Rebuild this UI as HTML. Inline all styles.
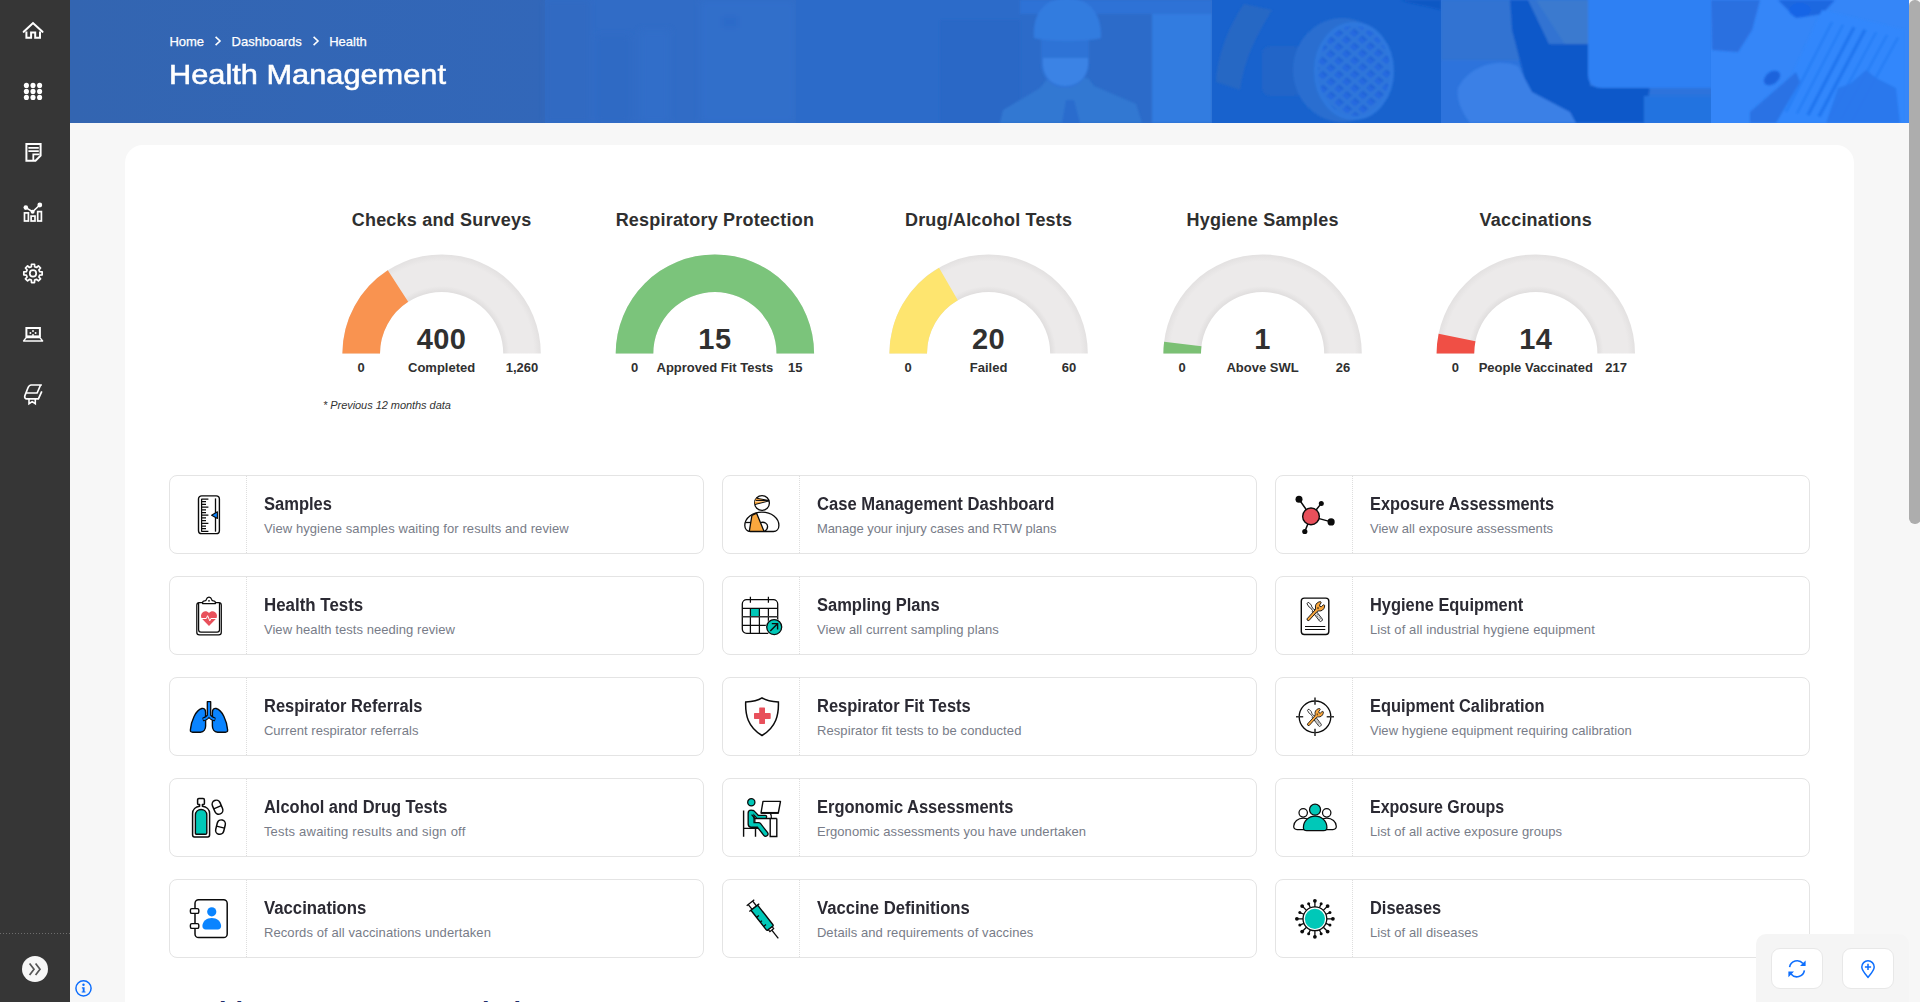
<!DOCTYPE html>
<html lang="en"><head><meta charset="utf-8"><title>Health Management</title>
<style>
html,body{margin:0;padding:0;}
body{width:1920px;height:1002px;overflow:hidden;background:#f7f7f7;font-family:"Liberation Sans",Arial,sans-serif;position:relative;}
.t{position:absolute;white-space:nowrap;margin:0;}
.abs{position:absolute;}
#side{left:0;top:0;width:70px;height:1002px;background:#363636;}
#banner{left:70px;top:0;width:1839px;height:123px;overflow:hidden;background:linear-gradient(90deg,#3266b7 0%,#3167ba 40%,#2f6cc8 60%,#2e74dc 80%,#2f7df0 100%);}
#card{left:125px;top:145px;width:1729px;height:900px;background:#fff;border-radius:18px;}
.tile{position:absolute;width:533px;height:77px;border:1px solid #e4e4e4;border-radius:8px;background:#fff;}
.tile i{position:absolute;left:76px;top:0;width:0;height:77px;border-left:1px dotted #dedede;}
.tile svg{position:absolute;left:18px;top:18px;width:40px;height:40px;overflow:visible;}
#sb{left:1909px;top:0;width:11.5px;height:524px;background:#adadad;border-radius:5.7px;}
#fab{left:1756px;top:934px;width:153px;height:80px;background:#f5f5f5;border-radius:10px 10px 0 0;}
.fb{position:absolute;top:948px;width:50px;height:39px;background:#fff;border:1px solid #e8e8e8;border-radius:9px;}
</style></head><body>

<div id="side" class="abs">
<svg class="abs" style="left:0;top:0" width="70" height="1002" viewBox="0 0 70 1002" fill="none" stroke="#fff" stroke-width="2" stroke-linejoin="miter">
<path d="M23.7 31.8 L33 23.1 L42.5 31.8" stroke-width="2.1" stroke-linecap="round"/>
<path d="M26.4 31.4 V37.8 H31.1 V32.6 H35.2 V37.8 H40 V31.4"/>
<circle cx="26.4" cy="85.4" r="2.55" fill="#fff" stroke="none"/>
<circle cx="33" cy="85.4" r="2.55" fill="#fff" stroke="none"/>
<circle cx="39.6" cy="85.4" r="2.55" fill="#fff" stroke="none"/>
<circle cx="26.4" cy="91.4" r="2.55" fill="#fff" stroke="none"/>
<circle cx="33" cy="91.4" r="2.55" fill="#fff" stroke="none"/>
<circle cx="39.6" cy="91.4" r="2.55" fill="#fff" stroke="none"/>
<circle cx="26.4" cy="97.4" r="2.55" fill="#fff" stroke="none"/>
<circle cx="33" cy="97.4" r="2.55" fill="#fff" stroke="none"/>
<circle cx="39.6" cy="97.4" r="2.55" fill="#fff" stroke="none"/>
<path d="M26.4 144 H40.6 V155.7 L35.5 160.8 H26.4 Z"/>
<path d="M28.4 147.8 H38.8 M28.4 151.1 H38.8" stroke-width="1.7"/>
<path d="M33.3 160 V154.3 H39.6" stroke-width="1.8"/>
<rect x="24.5" y="212.9" width="3.9" height="8.1" stroke-width="1.7"/>
<rect x="31.1" y="216.1" width="3.9" height="4.9" stroke-width="1.7"/>
<rect x="37.7" y="211.6" width="3.7" height="9.4" stroke-width="1.7"/>
<path d="M25.8 207.6 L32.6 211.8 L39.8 205" stroke-width="1.7"/>
<circle cx="25.8" cy="207.6" r="2.3" fill="#fff" stroke="none"/><circle cx="39.8" cy="205" r="2.4" fill="#fff" stroke="none"/><circle cx="32.6" cy="211.8" r="2" fill="#fff" stroke="none"/>
<path d="M31.37 266.70 L31.47 264.23 L34.53 264.23 L34.63 266.70 L36.58 267.50 L38.41 265.83 L40.57 267.99 L38.90 269.82 L39.70 271.77 L42.17 271.87 L42.17 274.93 L39.70 275.03 L38.90 276.98 L40.57 278.81 L38.41 280.97 L36.58 279.30 L34.63 280.10 L34.53 282.57 L31.47 282.57 L31.37 280.10 L29.42 279.30 L27.59 280.97 L25.43 278.81 L27.10 276.98 L26.30 275.03 L23.83 274.93 L23.83 271.87 L26.30 271.77 L27.10 269.82 L25.43 267.99 L27.59 265.83 L29.42 267.50Z" stroke-width="1.7" stroke-linejoin="round"/>
<circle cx="33" cy="273.4" r="3.2" stroke-width="1.7"/>
<rect x="26.4" y="328" width="13.5" height="8.4" />
<circle cx="33" cy="331" r="0.95" fill="#fff" stroke="none"/>
<circle cx="30.4" cy="333" r="0.95" fill="#fff" stroke="none"/>
<circle cx="35.6" cy="333" r="0.95" fill="#fff" stroke="none"/>
<circle cx="33" cy="335" r="0.95" fill="#fff" stroke="none"/>
<path d="M26.2 337.6 H39.9 L42.6 340.9 H23.6 Z" stroke-width="1.5" stroke-linejoin="round"/>
<path d="M41.9 385 H31.2 C29.4 385 28.6 386.2 27.9 388 L24.9 395.6 C24.2 397.6 25.3 398.9 26.8 398.9 H38.4 L41.8 391.4 M26.2 393 H37.1 L40.6 385" stroke-width="1.7" stroke-linejoin="round"/>
<path d="M29 399 V403.7 L32.2 401.6 L35.3 403.7 V399" stroke-width="1.6"/>
<path d="M0 933.5 H70" stroke="#6d6d6d" stroke-width="1" stroke-dasharray="1 2"/>
<circle cx="35" cy="969" r="13" fill="#f7f7f7" stroke="none"/>
<path d="M29.6 963.6 L34 969.3 L29.6 975 M35.6 963.6 L40 969.3 L35.6 975" stroke="#555" stroke-width="1.7"/>
</svg>
</div>
<div id="banner" class="abs">
<svg class="abs" style="left:0;top:0" width="1839" height="123" viewBox="70 0 1839 123">
<defs><filter id="bl1" x="-10%" y="-10%" width="120%" height="120%"><feGaussianBlur stdDeviation="1.2"/></filter><filter id="bl3" x="-10%" y="-10%" width="120%" height="120%"><feGaussianBlur stdDeviation="3"/></filter>
<linearGradient id="bg0" x1="0" x2="1" y1="0" y2="0"><stop offset="0" stop-color="#3365b1"/><stop offset="1" stop-color="#3267b9"/></linearGradient>
<pattern id="grid" width="10.5" height="10.5" patternUnits="userSpaceOnUse" patternTransform="rotate(40) skewX(-8)"><rect width="10.5" height="10.5" fill="#2f76da"/><rect x="2" y="2" width="6.5" height="6.5" fill="#2669e0"/><rect x="2" y="2" width="6.5" height="2.2" fill="#1f62d6"/></pattern>
<clipPath id="cp3"><rect x="1212" y="0" width="229" height="123"/></clipPath><clipPath id="cp4"><rect x="1441" y="0" width="270" height="123"/></clipPath><clipPath id="cp5"><rect x="1711" y="0" width="198" height="123"/></clipPath><clipPath id="cp2"><rect x="796" y="0" width="416" height="123"/></clipPath>
</defs>
<rect x="70" y="0" width="476" height="123" fill="url(#bg0)"/>
<rect x="545" y="0" width="251" height="123" fill="#316cc6"/>
<g filter="url(#bl3)" opacity="0.6"><rect x="545" y="0" width="45" height="123" fill="#3169c0"/><rect x="596" y="35" width="34" height="88" fill="#2f69c3"/><rect x="640" y="30" width="30" height="93" fill="#3370cb"/><rect x="700" y="0" width="96" height="123" fill="#3371ce"/><rect x="722" y="16" width="16" height="12" fill="#2b6acb"/></g>
<g clip-path="url(#cp2)"><rect x="796" y="0" width="416" height="123" fill="#2c6bc9"/>
<g filter="url(#bl1)"><rect x="940" y="20" width="80" height="103" fill="#2a68c6"/><rect x="1152" y="14" width="60" height="109" fill="#317ce0"/><rect x="1020" y="0" width="192" height="14" fill="#2d72d6"/>
<path d="M1000 123 L1003 110 L1040 88 L1048 78 H1088 L1094 86 L1136 104 L1142 123 Z" fill="#3278d2"/>
<path d="M1062 123 L1066 100 H1074 L1080 123 Z" fill="#2a6ccd"/>
<path d="M1041 36 H1089 V62 C1089 78 1078 88 1065 88 C1052 88 1041 78 1041 62 Z" fill="#2f73d6"/>
<path d="M1043 58 H1088 V66 C1086 80 1076 86 1065 86 C1054 86 1045 80 1043 66 Z" fill="#3b83e5"/>
<path d="M1034 38 C1032 12 1046 -2 1067 -2 C1088 -2 1102 12 1101 38 C1090 42 1046 42 1034 38 Z" fill="#337bdf"/>
</g></g>
<g clip-path="url(#cp3)"><rect x="1212" y="0" width="229" height="123" fill="#1862cd"/>
<g filter="url(#bl1)"><path d="M1244 4 L1272 10 C1256 36 1244 60 1240 90 L1216 82 C1218 52 1230 24 1244 4 Z" fill="#2768c4"/>
<rect x="1262" y="46" width="40" height="50" rx="8" fill="#2165c8"/>
<ellipse cx="1342" cy="70" rx="49" ry="52" fill="#2a6ed0"/><ellipse cx="1354" cy="71" rx="38" ry="47" fill="url(#grid)"/><ellipse cx="1354" cy="71" rx="38" ry="47" fill="none" stroke="#2f78de" stroke-width="4"/>
<path d="M1400 0 H1441 V10 C1426 6 1412 4 1400 0 Z" fill="#0f58c4"/></g></g>
<g clip-path="url(#cp4)"><rect x="1441" y="0" width="270" height="123" fill="#2d73dc"/>
<g filter="url(#bl1)"><rect x="1441" y="0" width="150" height="60" fill="#3373d2"/><path d="M1536 0 H1590 V46 H1566 Z" fill="#3a7acf"/>
<path d="M1510 0 H1528 L1549 44 H1590 V86 H1650 L1644 123 H1575 L1528 92 L1512 30 Z" fill="#0b59c9"/>
<path d="M1588 -4 H1712 V88 H1602 Q1588 88 1588 74 Z" fill="#2f80f3"/>
<path d="M1458 88 C1470 64 1500 58 1518 66 L1532 92 L1570 112 L1576 123 H1470 C1462 112 1456 100 1458 88 Z" fill="#3a80e6"/><rect x="1644" y="96" width="68" height="27" fill="#2373e0"/></g></g>
<g clip-path="url(#cp5)"><rect x="1711" y="0" width="198" height="123" fill="#3586f8"/>
<g filter="url(#bl1)"><path d="M1711 0 H1760 L1752 30 L1738 52 L1712 50 Z" fill="#2a70e0"/><path d="M1778 0 H1835 L1822 14 L1796 18 Z" fill="#1f68e0"/><ellipse cx="1800" cy="10" rx="11" ry="7" fill="#1765e6"/>
<path d="M1822 10 L1905 30 L1905 123 H1770 Z" fill="#3087fc"/>
<path d="M1832 22.0 L1786 112.0" stroke="#1f74ee" stroke-width="2" opacity="0.55"/>
<path d="M1843 24.6 L1797 113.5" stroke="#1f74ee" stroke-width="2" opacity="0.55"/>
<path d="M1854 27.2 L1808 115.0" stroke="#1f74ee" stroke-width="3.4" opacity="0.9"/>
<path d="M1865 29.8 L1819 116.5" stroke="#1f74ee" stroke-width="3.4" opacity="0.9"/>
<path d="M1876 32.4 L1830 118.0" stroke="#1f74ee" stroke-width="2" opacity="0.55"/>
<path d="M1887 35.0 L1841 119.5" stroke="#1f74ee" stroke-width="2" opacity="0.55"/>
<path d="M1898 37.6 L1852 121.0" stroke="#1f74ee" stroke-width="2" opacity="0.55"/>
<path d="M1750 112 L1796 72 L1800 82 L1776 123 H1750 Z" fill="#2a72e4"/><path d="M1826 123 L1838 88 L1850 84 L1866 70 L1876 78 L1896 88 L1900 123 Z" fill="#2b75ea" opacity="0.85"/><ellipse cx="1772" cy="78" rx="9" ry="6" transform="rotate(-35 1772 78)" fill="#1b63dc"/>
</g></g>
</svg>
</div>
<div class="t" style="top:32.80px;font-size:13px;line-height:17px;font-weight:400;color:#fff;left:169.40px;-webkit-text-stroke:0.25px #fff;">Home</div>
<div class="t" style="top:32.80px;font-size:13px;line-height:17px;font-weight:400;color:#fff;left:231.60px;-webkit-text-stroke:0.25px #fff;">Dashboards</div>
<div class="t" style="top:32.80px;font-size:13px;line-height:17px;font-weight:400;color:#fff;left:329.20px;-webkit-text-stroke:0.25px #fff;">Health</div>
<svg class="abs" style="left:213px;top:35px" width="10" height="12" viewBox="0 0 10 12"><path d="M2.6 1.8 L7 6 L2.6 10.2" fill="none" stroke="#fff" stroke-width="1.6"/></svg>
<svg class="abs" style="left:310.5px;top:35px" width="10" height="12" viewBox="0 0 10 12"><path d="M2.6 1.8 L7 6 L2.6 10.2" fill="none" stroke="#fff" stroke-width="1.6"/></svg>
<div class="t" style="top:57.00px;font-size:28px;line-height:36px;font-weight:400;color:#fff;left:168.50px;transform:scaleX(1.0985);transform-origin:0 50%;-webkit-text-stroke:0.55px #fff;">Health Management</div>
<div id="card" class="abs"></div>
<svg class="abs" style="left:0;top:0" width="1920" height="440" viewBox="0 0 1920 440">
<defs>
<radialGradient id="gg0" gradientUnits="userSpaceOnUse" cx="441.6" cy="353.6" r="99.2"><stop offset="0" stop-color="#dcdada"/><stop offset="0.621" stop-color="#e0dede"/><stop offset="0.681" stop-color="#eceaea"/><stop offset="0.929" stop-color="#eceaea"/><stop offset="1" stop-color="#e3e1e1"/></radialGradient>
<radialGradient id="gg1" gradientUnits="userSpaceOnUse" cx="714.9" cy="353.6" r="99.2"><stop offset="0" stop-color="#dcdada"/><stop offset="0.621" stop-color="#e0dede"/><stop offset="0.681" stop-color="#eceaea"/><stop offset="0.929" stop-color="#eceaea"/><stop offset="1" stop-color="#e3e1e1"/></radialGradient>
<radialGradient id="gg2" gradientUnits="userSpaceOnUse" cx="988.6" cy="353.6" r="99.2"><stop offset="0" stop-color="#dcdada"/><stop offset="0.621" stop-color="#e0dede"/><stop offset="0.681" stop-color="#eceaea"/><stop offset="0.929" stop-color="#eceaea"/><stop offset="1" stop-color="#e3e1e1"/></radialGradient>
<radialGradient id="gg3" gradientUnits="userSpaceOnUse" cx="1262.6" cy="353.6" r="99.2"><stop offset="0" stop-color="#dcdada"/><stop offset="0.621" stop-color="#e0dede"/><stop offset="0.681" stop-color="#eceaea"/><stop offset="0.929" stop-color="#eceaea"/><stop offset="1" stop-color="#e3e1e1"/></radialGradient>
<radialGradient id="gg4" gradientUnits="userSpaceOnUse" cx="1535.8" cy="353.6" r="99.2"><stop offset="0" stop-color="#dcdada"/><stop offset="0.621" stop-color="#e0dede"/><stop offset="0.681" stop-color="#eceaea"/><stop offset="0.929" stop-color="#eceaea"/><stop offset="1" stop-color="#e3e1e1"/></radialGradient>
</defs>
<path d="M342.40 353.60 A99.2 99.2 0 0 1 540.80 353.60 L503.20 353.60 A61.6 61.6 0 0 0 380.00 353.60 Z" fill="url(#gg0)"/>
<path d="M342.40 353.60 A99.2 99.2 0 0 1 387.78 270.27 L408.18 301.85 A61.6 61.6 0 0 0 380.00 353.60 Z" fill="#f99350"/>
<path d="M615.70 353.60 A99.2 99.2 0 0 1 814.10 353.60 L776.50 353.60 A61.6 61.6 0 0 0 653.30 353.60 Z" fill="url(#gg1)"/>
<path d="M615.70 353.60 A99.2 99.2 0 0 1 814.10 353.60 L776.50 353.60 A61.6 61.6 0 0 0 653.30 353.60 Z" fill="#7bc47b"/>
<path d="M889.40 353.60 A99.2 99.2 0 0 1 1087.80 353.60 L1050.20 353.60 A61.6 61.6 0 0 0 927.00 353.60 Z" fill="url(#gg2)"/>
<path d="M889.40 353.60 A99.2 99.2 0 0 1 939.00 267.69 L957.80 300.25 A61.6 61.6 0 0 0 927.00 353.60 Z" fill="#fee56f"/>
<path d="M1163.40 353.60 A99.2 99.2 0 0 1 1361.80 353.60 L1324.20 353.60 A61.6 61.6 0 0 0 1201.00 353.60 Z" fill="url(#gg3)"/>
<path d="M1163.40 353.60 A99.2 99.2 0 0 1 1164.12 341.64 L1201.45 346.17 A61.6 61.6 0 0 0 1201.00 353.60 Z" fill="#7bc074"/>
<path d="M1436.60 353.60 A99.2 99.2 0 0 1 1635.00 353.60 L1597.40 353.60 A61.6 61.6 0 0 0 1474.20 353.60 Z" fill="url(#gg4)"/>
<path d="M1436.60 353.60 A99.2 99.2 0 0 1 1438.63 333.63 L1475.46 341.20 A61.6 61.6 0 0 0 1474.20 353.60 Z" fill="#f04f45"/>
</svg>
<div class="t" style="top:208.96px;font-size:18px;line-height:23px;font-weight:700;color:#2f2f2f;letter-spacing:0.2px;left:241.60px;width:400px;text-align:center;">Checks and Surveys</div>
<div class="t" style="top:320.45px;font-size:29px;line-height:38px;font-weight:700;color:#303030;letter-spacing:0.4px;left:241.60px;width:400px;text-align:center;">400</div>
<div class="t" style="top:359.30px;font-size:13px;line-height:17px;font-weight:700;color:#303030;left:241.60px;width:400px;text-align:center;">Completed</div>
<div class="t" style="top:359.30px;font-size:13px;line-height:17px;font-weight:700;color:#303030;left:161.20px;width:400px;text-align:center;">0</div>
<div class="t" style="top:359.30px;font-size:13px;line-height:17px;font-weight:700;color:#303030;left:322.00px;width:400px;text-align:center;">1,260</div>
<div class="t" style="top:208.96px;font-size:18px;line-height:23px;font-weight:700;color:#2f2f2f;letter-spacing:0.2px;left:514.90px;width:400px;text-align:center;">Respiratory Protection</div>
<div class="t" style="top:320.45px;font-size:29px;line-height:38px;font-weight:700;color:#303030;letter-spacing:0.4px;left:514.90px;width:400px;text-align:center;">15</div>
<div class="t" style="top:359.30px;font-size:13px;line-height:17px;font-weight:700;color:#303030;left:514.90px;width:400px;text-align:center;">Approved Fit Tests</div>
<div class="t" style="top:359.30px;font-size:13px;line-height:17px;font-weight:700;color:#303030;left:434.50px;width:400px;text-align:center;">0</div>
<div class="t" style="top:359.30px;font-size:13px;line-height:17px;font-weight:700;color:#303030;left:595.30px;width:400px;text-align:center;">15</div>
<div class="t" style="top:208.96px;font-size:18px;line-height:23px;font-weight:700;color:#2f2f2f;letter-spacing:0.2px;left:788.60px;width:400px;text-align:center;">Drug/Alcohol Tests</div>
<div class="t" style="top:320.45px;font-size:29px;line-height:38px;font-weight:700;color:#303030;letter-spacing:0.4px;left:788.60px;width:400px;text-align:center;">20</div>
<div class="t" style="top:359.30px;font-size:13px;line-height:17px;font-weight:700;color:#303030;left:788.60px;width:400px;text-align:center;">Failed</div>
<div class="t" style="top:359.30px;font-size:13px;line-height:17px;font-weight:700;color:#303030;left:708.20px;width:400px;text-align:center;">0</div>
<div class="t" style="top:359.30px;font-size:13px;line-height:17px;font-weight:700;color:#303030;left:869.00px;width:400px;text-align:center;">60</div>
<div class="t" style="top:208.96px;font-size:18px;line-height:23px;font-weight:700;color:#2f2f2f;letter-spacing:0.2px;left:1062.60px;width:400px;text-align:center;">Hygiene Samples</div>
<div class="t" style="top:320.45px;font-size:29px;line-height:38px;font-weight:700;color:#303030;letter-spacing:0.4px;left:1062.60px;width:400px;text-align:center;">1</div>
<div class="t" style="top:359.30px;font-size:13px;line-height:17px;font-weight:700;color:#303030;left:1062.60px;width:400px;text-align:center;">Above SWL</div>
<div class="t" style="top:359.30px;font-size:13px;line-height:17px;font-weight:700;color:#303030;left:982.20px;width:400px;text-align:center;">0</div>
<div class="t" style="top:359.30px;font-size:13px;line-height:17px;font-weight:700;color:#303030;left:1143.00px;width:400px;text-align:center;">26</div>
<div class="t" style="top:208.96px;font-size:18px;line-height:23px;font-weight:700;color:#2f2f2f;letter-spacing:0.2px;left:1335.80px;width:400px;text-align:center;">Vaccinations</div>
<div class="t" style="top:320.45px;font-size:29px;line-height:38px;font-weight:700;color:#303030;letter-spacing:0.4px;left:1335.80px;width:400px;text-align:center;">14</div>
<div class="t" style="top:359.30px;font-size:13px;line-height:17px;font-weight:700;color:#303030;left:1335.80px;width:400px;text-align:center;">People Vaccinated</div>
<div class="t" style="top:359.30px;font-size:13px;line-height:17px;font-weight:700;color:#303030;left:1255.40px;width:400px;text-align:center;">0</div>
<div class="t" style="top:359.30px;font-size:13px;line-height:17px;font-weight:700;color:#303030;left:1416.20px;width:400px;text-align:center;">217</div>
<div class="t" style="top:397.89px;font-size:11px;line-height:14px;font-weight:400;color:#333;font-style:italic;letter-spacing:-0.05px;left:323.00px;">* Previous 12 months data</div>
<div class="tile" style="left:169px;top:475px"><svg viewBox="0 -0.5 40 40"><rect x="10.5" y="1.4" width="20.9" height="37.7" rx="3.2" fill="#fff" stroke="#0b0b0b" stroke-width="1.4"/><path d="M13.6 4.2 V37.2 M13.6 4.50 H20.4 M13.6 7.20 H18 M13.6 9.90 H18 M13.6 12.60 H20.4 M13.6 15.30 H18 M13.6 18.00 H18 M13.6 20.70 H20.4 M13.6 23.40 H18 M13.6 26.10 H18 M13.6 28.80 H20.4 M13.6 31.50 H18 M13.6 34.20 H18 M13.6 36.90 H20.4 " stroke="#0b0b0b" stroke-width="1.25" fill="none"/><path d="M27.5 3.9 V37.2" stroke="#0b0b0b" stroke-width="1.3" fill="none"/><path d="M23.6 20.7 L29.4 17.3 V24 Z" fill="#0a84ff" stroke="#0b0b0b" stroke-width="1.1" stroke-linejoin="round"/></svg><i></i></div>
<div class="t" style="top:493.06px;font-size:18px;line-height:23px;font-weight:700;color:#2b2a33;left:263.60px;transform:scaleX(0.9183);transform-origin:0 50%;">Samples</div>
<div class="t" style="top:519.90px;font-size:13px;line-height:17px;font-weight:400;color:#787c88;letter-spacing:0.089px;left:263.90px;">View hygiene samples waiting for results and review</div>
<div class="tile" style="left:169px;top:576px"><svg viewBox="0 -0.5 40 40"><rect x="8.8" y="7.1" width="24.5" height="32.2" rx="2.6" fill="#fff" stroke="#0b0b0b" stroke-width="1.25"/><path d="M10.6 7.1 V34.3 Q10.6 36.6 12.9 36.6 H29.2 Q31.5 36.6 31.5 34.3 V7.1" fill="none" stroke="#0b0b0b" stroke-width="1.25"/><path d="M14.6 8.1 V7.3 C14.6 5.9 15.6 5.4 16.8 5.4 C18.2 5.4 18.3 4.6 18.5 3.6 C18.8 2.2 19.8 1.5 21 1.5 C22.2 1.5 23.2 2.2 23.5 3.6 C23.7 4.6 23.8 5.4 25.2 5.4 C26.4 5.4 27.4 5.9 27.4 7.3 V8.1 Z" fill="#fff" stroke="#0b0b0b" stroke-width="1.25" stroke-linejoin="round"/><circle cx="21" cy="5.3" r="0.85" fill="#0b0b0b"/><path d="M21 30.4 L14.2 23.6 C12.4 21.6 12.6 18.2 14.8 16.7 C16.8 15.3 19.4 15.7 21 17.6 C22.6 15.7 25.2 15.3 27.2 16.7 C29.4 18.2 29.6 21.6 27.8 23.6 Z" fill="#e8505b"/><path d="M12.5 23 H18.3 L19.6 20.2 L21.8 25.3 L22.9 23 H29.5" fill="none" stroke="#fff" stroke-width="1"/></svg><i></i></div>
<div class="t" style="top:594.06px;font-size:18px;line-height:23px;font-weight:700;color:#2b2a33;left:263.60px;transform:scaleX(0.9385);transform-origin:0 50%;">Health Tests</div>
<div class="t" style="top:620.90px;font-size:13px;line-height:17px;font-weight:400;color:#787c88;letter-spacing:0.064px;left:263.90px;">View health tests needing review</div>
<div class="tile" style="left:169px;top:677px"><svg viewBox="0 -0.5 40 40"><path d="M17.6 16 C17.6 12.6 15.8 11.5 13.8 12 C7.6 13.6 3.2 24.5 2.4 33.2 C2.2 35 3 35.7 4.6 35.7 H12.4 C16 35.7 17.6 32.4 17.6 29.6 Z" fill="#0a84ff" stroke="#0b0b0b" stroke-width="1.4" stroke-linejoin="round"/><path d="M17.6 16 C17.6 12.6 15.8 11.5 13.8 12 C7.6 13.6 3.2 24.5 2.4 33.2 C2.2 35 3 35.7 4.6 35.7 H12.4 C16 35.7 17.6 32.4 17.6 29.6 Z" transform="translate(42 0) scale(-1 1)" fill="#0a84ff" stroke="#0b0b0b" stroke-width="1.4" stroke-linejoin="round"/><path d="M19.3 5.2 H22.7 V18.6 C23.6 20.2 25 21 27 21.6 L26.4 24 C24.2 23.6 22.2 22.6 21 21.2 C19.8 22.6 17.8 23.6 15.6 24 L15 21.6 C17 21 18.4 20.2 19.3 18.6 Z" fill="#0a84ff" stroke="#0b0b0b" stroke-width="1.3" stroke-linejoin="round"/><path d="M15.3 22.8 C17 22.4 18.6 21.8 19.8 20.6 M26.7 22.8 C25 22.4 23.4 21.8 22.2 20.6" fill="none" stroke="#0a84ff" stroke-width="1.7"/></svg><i></i></div>
<div class="t" style="top:695.06px;font-size:18px;line-height:23px;font-weight:700;color:#2b2a33;left:263.60px;transform:scaleX(0.9152);transform-origin:0 50%;">Respirator Referrals</div>
<div class="t" style="top:721.90px;font-size:13px;line-height:17px;font-weight:400;color:#787c88;letter-spacing:0.053px;left:263.90px;">Current respirator referrals</div>
<div class="tile" style="left:169px;top:778px"><svg viewBox="0 -0.5 40 40"><path d="M10.4 6.9 C9.8 6.9 9.6 6.5 9.6 6 V2.4 C9.6 1.5 10.1 1.1 10.9 1.1 H15.1 C15.9 1.1 16.4 1.5 16.4 2.4 V6 C16.4 6.5 16.2 6.9 15.6 6.9 H14.4 V8.7 C18.4 9.2 21.6 12 21.6 16 V37.6 C21.6 38.8 21 39.4 19.8 39.4 H6.4 C5.2 39.4 4.6 38.8 4.6 37.6 V16 C4.6 12 7.8 9.2 11.6 8.7 V6.9 Z" fill="#fff" stroke="#0b0b0b" stroke-width="1.5" stroke-linejoin="round"/><path d="M7.4 17.6 C7.4 14.2 10 12 13.1 12 C16.2 12 18.8 14.2 18.8 17.6 V35.4 C18.8 36.4 18.3 36.8 17.4 36.8 H8.8 C7.9 36.8 7.4 36.4 7.4 35.4 Z" fill="#00c8b8" stroke="#0b0b0b" stroke-width="1.4"/><g transform="rotate(-23 29.5 9.7)"><rect x="25.4" y="2.4" width="8.2" height="14.6" rx="4.1" fill="#fff" stroke="#0b0b0b" stroke-width="1.5"/><path d="M25.4 9.7 H33.6" stroke="#0b0b0b" stroke-width="1.4"/></g><g transform="rotate(14 32.5 29.6)"><rect x="28.4" y="22.3" width="8.2" height="14.6" rx="4.1" fill="#fff" stroke="#0b0b0b" stroke-width="1.5"/><path d="M28.4 29.6 H36.6" stroke="#0b0b0b" stroke-width="1.4"/></g></svg><i></i></div>
<div class="t" style="top:796.06px;font-size:18px;line-height:23px;font-weight:700;color:#2b2a33;left:263.60px;transform:scaleX(0.9134);transform-origin:0 50%;">Alcohol and Drug Tests</div>
<div class="t" style="top:822.90px;font-size:13px;line-height:17px;font-weight:400;color:#787c88;letter-spacing:0.213px;left:263.90px;">Tests awaiting results and sign off</div>
<div class="tile" style="left:169px;top:879px"><svg viewBox="0 -0.5 40 40"><rect x="7" y="1.3" width="32.2" height="37.7" rx="3.6" fill="#fff" stroke="#0b0b0b" stroke-width="1.5"/><rect x="2.4" y="10.1" width="8.4" height="4.8" rx="1.5" fill="#fff" stroke="#0b0b0b" stroke-width="1.4"/><rect x="2.4" y="25.1" width="8.4" height="4.8" rx="1.5" fill="#fff" stroke="#0b0b0b" stroke-width="1.4"/><circle cx="23.75" cy="13.3" r="4.6" fill="#0a84ff"/><path d="M14.4 27.6 C14.4 23 18.6 19.5 23.75 19.5 C28.9 19.5 33.1 23 33.1 27.6 C33.1 29.8 31.8 31 29.8 31 H17.7 C15.7 31 14.4 29.8 14.4 27.6 Z" fill="#0a84ff"/></svg><i></i></div>
<div class="t" style="top:897.06px;font-size:18px;line-height:23px;font-weight:700;color:#2b2a33;left:263.60px;transform:scaleX(0.9304);transform-origin:0 50%;">Vaccinations</div>
<div class="t" style="top:923.90px;font-size:13px;line-height:17px;font-weight:400;color:#787c88;letter-spacing:0.1px;left:263.90px;">Records of all vaccinations undertaken</div>
<div class="tile" style="left:722px;top:475px"><svg viewBox="0 -0.5 40 40"><path d="M3.8 31 C3.8 23.6 11.5 17.7 21 17.7 C30.4 17.7 37.9 23.6 37.9 31 C37.9 34.6 35.6 37 32.4 37 H9.4 C6.2 37 3.8 34.6 3.8 31 Z" fill="#fff" stroke="#0b0b0b" stroke-width="1.3"/><path d="M4.4 28 H10" stroke="#0b0b0b" stroke-width="1.3"/><path d="M19.4 28.2 C23.4 26.8 26.6 29.2 26.6 32 C26.6 34.2 25.4 35.8 23.6 36.8" fill="none" stroke="#0b0b0b" stroke-width="1.3"/><path d="M10.9 21 L15.5 18.6 L23 36.8 H8.3 Z" fill="#f9a73e" stroke="#0b0b0b" stroke-width="1.3" stroke-linejoin="round"/><circle cx="21" cy="8.5" r="7.4" fill="#fff" stroke="#0b0b0b" stroke-width="1.3"/><path d="M15.4 3.7 L27.8 5.9 L14 10 C13.5 8 13.9 5.6 15.4 3.7 Z" fill="#f9a73e"/><path d="M14.2 6.6 L27 6.2" stroke="#fff" stroke-width="0.9"/><path d="M15.4 3.7 L28 6 M14 10 L28.2 6.4 M14.6 5.9 L27.6 6.1" stroke="#0b0b0b" stroke-width="1" fill="none"/></svg><i></i></div>
<div class="t" style="top:493.06px;font-size:18px;line-height:23px;font-weight:700;color:#2b2a33;left:816.60px;transform:scaleX(0.9231);transform-origin:0 50%;">Case Management Dashboard</div>
<div class="t" style="top:519.90px;font-size:13px;line-height:17px;font-weight:400;color:#787c88;letter-spacing:-0.043px;left:816.90px;">Manage your injury cases and RTW plans</div>
<div class="tile" style="left:722px;top:576px"><svg viewBox="0 -0.5 40 40"><rect x="9.4" y="12.9" width="9" height="8.3" fill="#00c8b8"/><rect x="1.3" y="4.1" width="35.4" height="33.8" rx="4.4" fill="none" stroke="#0b0b0b" stroke-width="1.3"/><path d="M9.4 1.3 V7.3 M27.4 1.3 V7.3 M1.3 12.9 H36.7 M1.3 29.8 H36.7 M9.4 12.9 V37.9 M18.4 12.9 V37.9 M27.4 12.9 V37.9" stroke="#0b0b0b" stroke-width="1.25" fill="none"/><path d="M1.3 21.2 H36.7" stroke="#333" stroke-width="1.6"/><circle cx="33.2" cy="31.6" r="8.6" fill="#fff"/><circle cx="33.2" cy="31.6" r="7.5" fill="#00c8b8" stroke="#0b0b0b" stroke-width="1.3"/><path d="M29.3 35.4 L36.5 28.2 M30.8 28.1 H36.6 V34" stroke="#0b0b0b" stroke-width="1.4" fill="none"/></svg><i></i></div>
<div class="t" style="top:594.06px;font-size:18px;line-height:23px;font-weight:700;color:#2b2a33;left:816.60px;transform:scaleX(0.9161);transform-origin:0 50%;">Sampling Plans</div>
<div class="t" style="top:620.90px;font-size:13px;line-height:17px;font-weight:400;color:#787c88;letter-spacing:0.098px;left:816.90px;">View all current sampling plans</div>
<div class="tile" style="left:722px;top:677px"><svg viewBox="0 -0.5 40 40"><path d="M21 1.4 C16.6 4.2 10.6 5.2 4.7 5.5 C4.2 18 6.6 30.4 21 39 C35.4 30.4 37.8 18 37.4 5.5 C31.4 5.2 25.4 4.2 21 1.4 Z" fill="#fff" stroke="#0b0b0b" stroke-width="1.5" stroke-linejoin="miter"/><path d="M18.2 11.7 Q18.2 11.1 18.8 11.1 H23.4 Q24 11.1 24 11.7 V16.5 H29 Q29.7 16.5 29.7 17.2 V21.8 Q29.7 22.5 29 22.5 H24 V26.8 Q24 27.4 23.4 27.4 H18.8 Q18.2 27.4 18.2 26.8 V22.5 H13.6 Q13 22.5 13 21.8 V17.2 Q13 16.5 13.6 16.5 H18.2 Z" fill="#e8505b"/></svg><i></i></div>
<div class="t" style="top:695.06px;font-size:18px;line-height:23px;font-weight:700;color:#2b2a33;left:816.60px;transform:scaleX(0.9170);transform-origin:0 50%;">Respirator Fit Tests</div>
<div class="t" style="top:721.90px;font-size:13px;line-height:17px;font-weight:400;color:#787c88;letter-spacing:0.103px;left:816.90px;">Respirator fit tests to be conducted</div>
<div class="tile" style="left:722px;top:778px"><svg viewBox="0 -0.5 40 40"><path d="M2.6 13.1 V39.2 M2.6 30.9 H17.6 M14.5 30.9 V39.2" stroke="#0b0b0b" stroke-width="1.4" fill="none"/><path d="M13.6 21 H35.8 M29.2 21 V39 H35.8 V21" stroke="#0b0b0b" stroke-width="1.4" fill="none"/><path d="M29.3 15.6 C30.4 17.4 30.6 19 30.3 20.8" stroke="#0b0b0b" stroke-width="1.4" fill="none"/><path d="M22 3.9 H39.5 L37.3 15.5 H20 Z" fill="#fff" stroke="#0b0b0b" stroke-width="1.4" stroke-linejoin="round"/><path d="M20 15.4 H37.3" stroke="#0b0b0b" stroke-width="1.9"/><path d="M10.1 15.6 V26.4" fill="none" stroke="#0b0b0b" stroke-width="7.199999999999999" stroke-linecap="round" stroke-linejoin="round"/><path d="M10.6 27.4 H17.6 L24.6 36.4" fill="none" stroke="#0b0b0b" stroke-width="6.0" stroke-linecap="round" stroke-linejoin="round"/><path d="M12.2 14.6 L16.6 19.3 H24.2" fill="none" stroke="#0b0b0b" stroke-width="4.3" stroke-linecap="round" stroke-linejoin="round"/><path d="M10.1 15.6 V26.4" fill="none" stroke="#00c8b8" stroke-width="4.6" stroke-linecap="round" stroke-linejoin="round"/><path d="M10.6 27.4 H17.6 L24.6 36.4" fill="none" stroke="#00c8b8" stroke-width="3.4" stroke-linecap="round" stroke-linejoin="round"/><path d="M12.2 14.6 L16.6 19.3 H24.2" fill="none" stroke="#00c8b8" stroke-width="1.7" stroke-linecap="round" stroke-linejoin="round"/><path d="M10.6 17.2 L13.9 21 V25" stroke="#0b0b0b" stroke-width="1.2" fill="none"/><circle cx="10.3" cy="4.8" r="3.6" fill="#00c8b8" stroke="#0b0b0b" stroke-width="1.3"/></svg><i></i></div>
<div class="t" style="top:796.06px;font-size:18px;line-height:23px;font-weight:700;color:#2b2a33;left:816.60px;transform:scaleX(0.9155);transform-origin:0 50%;">Ergonomic Assessments</div>
<div class="t" style="top:822.90px;font-size:13px;line-height:17px;font-weight:400;color:#787c88;letter-spacing:0.064px;left:816.90px;">Ergonomic assessments you have undertaken</div>
<div class="tile" style="left:722px;top:879px"><svg viewBox="0 -0.5 40 40"><g transform="translate(13.3 9.2) rotate(52)"><path d="M-6.2 -4.8 V4.8 M-6.2 -2.8 H0 M-6.2 2.8 H0 M0 -6.3 V6.3" stroke="#0b0b0b" stroke-width="1.3" fill="none"/><path d="M0 -4.2 H24.6 Q26 -4.2 26 -2.8 V2.8 Q26 4.2 24.6 4.2 H0 Z" fill="#00c8b8" stroke="#0b0b0b" stroke-width="1.4"/><path d="M9 4.2 V1.2 M15 4.2 V2 M20.5 4.2 V1.2" stroke="#0b0b0b" stroke-width="1.3" fill="none"/><rect x="26" y="-2.4" width="2.4" height="4.8" fill="#fff" stroke="#0b0b0b" stroke-width="1.2"/><path d="M28.4 0 H39" stroke="#0b0b0b" stroke-width="1.3"/></g></svg><i></i></div>
<div class="t" style="top:897.06px;font-size:18px;line-height:23px;font-weight:700;color:#2b2a33;left:816.60px;transform:scaleX(0.9257);transform-origin:0 50%;">Vaccine Definitions</div>
<div class="t" style="top:923.90px;font-size:13px;line-height:17px;font-weight:400;color:#787c88;letter-spacing:0.092px;left:816.90px;">Details and requirements of vaccines</div>
<div class="tile" style="left:1275px;top:475px"><svg viewBox="0 -0.5 40 40"><path d="M17 21.9 L5 4.7 M17 21.9 L27.3 8.9 M17 21.9 L37.1 27.4 M17 21.9 L10.8 37" stroke="#0b0b0b" stroke-width="1.5" fill="none"/><circle cx="17" cy="21.9" r="8.35" fill="#e8505b" stroke="#0b0b0b" stroke-width="1.4"/><circle cx="5" cy="4.7" r="3.5" fill="#0b0b0b"/><circle cx="27.3" cy="8.9" r="2.5" fill="#0b0b0b"/><circle cx="37.1" cy="27.4" r="3.6" fill="#0b0b0b"/><circle cx="10.8" cy="37" r="2.6" fill="#0b0b0b"/></svg><i></i></div>
<div class="t" style="top:493.06px;font-size:18px;line-height:23px;font-weight:700;color:#2b2a33;left:1369.60px;transform:scaleX(0.9094);transform-origin:0 50%;">Exposure Assessments</div>
<div class="t" style="top:519.90px;font-size:13px;line-height:17px;font-weight:400;color:#787c88;letter-spacing:0.074px;left:1369.90px;">View all exposure assessments</div>
<div class="tile" style="left:1275px;top:576px"><svg viewBox="0 -0.5 40 40"><rect x="7.3" y="2.6" width="27.5" height="36.4" rx="3" fill="#fff" stroke="#0b0b0b" stroke-width="1.4"/><path d="M11 31 H31.3 M11 34 H31.3" stroke="#0b0b0b" stroke-width="1.2"/><g transform="translate(0 0) translate(21.5 16) scale(1) translate(-21.5 -16)"><g transform="translate(13.9 7.6) rotate(52.5)"><path d="M0 -1.1 Q-0.9 0 0 1.1 L3.6 1.5 L5.4 0.8 L8.6 0.8 L9.6 1.7 H21.4 Q22.6 1.6 22.6 0 Q22.6 -1.6 21.4 -1.7 H9.6 L8.6 -0.8 L5.4 -0.8 L3.6 -1.5 Z" fill="#fff" stroke="#0b0b0b" stroke-width="0.8" stroke-linejoin="round"/><path d="M10.6 -0.6 H21.2 M10.6 0.6 H21.2" stroke="#0b0b0b" stroke-width="0.55" stroke-dasharray="1.1 0.7" fill="none"/></g><g transform="translate(13.9 24.3) rotate(-48)"><path d="M0 -1.3 Q-1.4 0 0 1.3 L12.2 1.3 C13.6 1.4 14.2 2.8 15.4 3.7 C17.4 5 20.4 4.6 22 2.7 L21.5 1.5 L18.8 1.2 L17.9 0 L18.8 -1.2 L21.5 -1.5 L22 -2.7 C20.4 -4.6 17.4 -5 15.4 -3.7 C14.2 -2.8 13.6 -1.4 12.2 -1.3 Z" fill="#f9a73e" stroke="#0b0b0b" stroke-width="0.85" stroke-linejoin="round"/><path d="M14.6 -0.5 L15.6 0.6 M15.2 -1.2 L16.3 0" stroke="#0b0b0b" stroke-width="0.6"/></g></g></svg><i></i></div>
<div class="t" style="top:594.06px;font-size:18px;line-height:23px;font-weight:700;color:#2b2a33;left:1369.60px;transform:scaleX(0.9117);transform-origin:0 50%;">Hygiene Equipment</div>
<div class="t" style="top:620.90px;font-size:13px;line-height:17px;font-weight:400;color:#787c88;letter-spacing:0.115px;left:1369.90px;">List of all industrial hygiene equipment</div>
<div class="tile" style="left:1275px;top:677px"><svg viewBox="0 -0.5 40 40"><circle cx="21" cy="20.3" r="15.8" fill="#fff" stroke="#0b0b0b" stroke-width="1.35"/><path d="M21 1.1 V8.3 M21 32.2 V39.6 M2 20.3 H9.2 M32.7 20.3 H40" stroke="#333" stroke-width="1.6"/><g transform="translate(-0.4 4.9) translate(21.5 16) scale(0.9) translate(-21.5 -16)"><g transform="translate(13.9 7.6) rotate(52.5)"><path d="M0 -1.1 Q-0.9 0 0 1.1 L3.6 1.5 L5.4 0.8 L8.6 0.8 L9.6 1.7 H21.4 Q22.6 1.6 22.6 0 Q22.6 -1.6 21.4 -1.7 H9.6 L8.6 -0.8 L5.4 -0.8 L3.6 -1.5 Z" fill="#fff" stroke="#0b0b0b" stroke-width="0.8" stroke-linejoin="round"/><path d="M10.6 -0.6 H21.2 M10.6 0.6 H21.2" stroke="#0b0b0b" stroke-width="0.55" stroke-dasharray="1.1 0.7" fill="none"/></g><g transform="translate(13.9 24.3) rotate(-48)"><path d="M0 -1.3 Q-1.4 0 0 1.3 L12.2 1.3 C13.6 1.4 14.2 2.8 15.4 3.7 C17.4 5 20.4 4.6 22 2.7 L21.5 1.5 L18.8 1.2 L17.9 0 L18.8 -1.2 L21.5 -1.5 L22 -2.7 C20.4 -4.6 17.4 -5 15.4 -3.7 C14.2 -2.8 13.6 -1.4 12.2 -1.3 Z" fill="#f9a73e" stroke="#0b0b0b" stroke-width="0.85" stroke-linejoin="round"/><path d="M14.6 -0.5 L15.6 0.6 M15.2 -1.2 L16.3 0" stroke="#0b0b0b" stroke-width="0.6"/></g></g></svg><i></i></div>
<div class="t" style="top:695.06px;font-size:18px;line-height:23px;font-weight:700;color:#2b2a33;left:1369.60px;transform:scaleX(0.9088);transform-origin:0 50%;">Equipment Calibration</div>
<div class="t" style="top:721.90px;font-size:13px;line-height:17px;font-weight:400;color:#787c88;letter-spacing:0.077px;left:1369.90px;">View hygiene equipment requiring calibration</div>
<div class="tile" style="left:1275px;top:778px"><svg viewBox="0 -0.5 40 40"><path d="M-0.3 28.80 A9.55 8.20 0 0 1 18.8 28.80 Q18.8 32 15.40 32 H3.10 Q-0.3 32 -0.3 28.80 Z" fill="#fff" stroke="#0b0b0b" stroke-width="1.25"/><path d="M23.2 28.80 A9.55 8.20 0 0 1 42.3 28.80 Q42.3 32 38.90 32 H26.60 Q23.2 32 23.2 28.80 Z" fill="#fff" stroke="#0b0b0b" stroke-width="1.25"/><circle cx="9.2" cy="15.3" r="4.2" fill="#fff" stroke="#0b0b0b" stroke-width="1.25"/><circle cx="32.7" cy="15.3" r="4.2" fill="#fff" stroke="#0b0b0b" stroke-width="1.25"/><path d="M9.4 29.90 A11.75 11.30 0 0 1 32.9 29.90 Q32.9 33.1 29.50 33.1 H12.80 Q9.4 33.1 9.4 29.90 Z" fill="#00c8b8" stroke="#0b0b0b" stroke-width="1.25"/><circle cx="21.05" cy="12.2" r="5.5" fill="#00c8b8" stroke="#0b0b0b" stroke-width="1.25"/></svg><i></i></div>
<div class="t" style="top:796.06px;font-size:18px;line-height:23px;font-weight:700;color:#2b2a33;left:1369.60px;transform:scaleX(0.8886);transform-origin:0 50%;">Exposure Groups</div>
<div class="t" style="top:822.90px;font-size:13px;line-height:17px;font-weight:400;color:#787c88;letter-spacing:0.087px;left:1369.90px;">List of all active exposure groups</div>
<div class="tile" style="left:1275px;top:879px"><svg viewBox="0 -0.5 40 40"><path d="M32.80 20.30 L38.90 20.30 M31.89 24.85 L35.96 26.54 M29.31 28.71 L33.63 33.03 M25.45 31.29 L27.14 35.36 M20.90 32.20 L20.90 38.30 M16.35 31.29 L14.66 35.36 M12.49 28.71 L8.17 33.03 M9.91 24.85 L5.84 26.54 M9.00 20.30 L2.90 20.30 M9.91 15.75 L5.84 14.06 M12.49 11.89 L8.17 7.57 M16.35 9.31 L14.66 5.24 M20.90 8.40 L20.90 2.30 M25.45 9.31 L27.14 5.24 M29.31 11.89 L33.63 7.57 M31.89 15.75 L35.96 14.06 " stroke="#0b0b0b" stroke-width="1.3" fill="none"/><circle cx="38.90" cy="20.30" r="1.9" fill="#0b0b0b"/><circle cx="35.96" cy="26.54" r="1.5" fill="#0b0b0b"/><circle cx="33.63" cy="33.03" r="1.9" fill="#0b0b0b"/><circle cx="27.14" cy="35.36" r="1.5" fill="#0b0b0b"/><circle cx="20.90" cy="38.30" r="1.9" fill="#0b0b0b"/><circle cx="14.66" cy="35.36" r="1.5" fill="#0b0b0b"/><circle cx="8.17" cy="33.03" r="1.9" fill="#0b0b0b"/><circle cx="5.84" cy="26.54" r="1.5" fill="#0b0b0b"/><circle cx="2.90" cy="20.30" r="1.9" fill="#0b0b0b"/><circle cx="5.84" cy="14.06" r="1.5" fill="#0b0b0b"/><circle cx="8.17" cy="7.57" r="1.9" fill="#0b0b0b"/><circle cx="14.66" cy="5.24" r="1.5" fill="#0b0b0b"/><circle cx="20.90" cy="2.30" r="1.9" fill="#0b0b0b"/><circle cx="27.14" cy="5.24" r="1.5" fill="#0b0b0b"/><circle cx="33.63" cy="7.57" r="1.9" fill="#0b0b0b"/><circle cx="35.96" cy="14.06" r="1.5" fill="#0b0b0b"/><circle cx="20.9" cy="20.3" r="11.9" fill="#fff" stroke="#0b0b0b" stroke-width="1.3"/><circle cx="20.9" cy="20.3" r="10.1" fill="#00c8b8"/></svg><i></i></div>
<div class="t" style="top:897.06px;font-size:18px;line-height:23px;font-weight:700;color:#2b2a33;left:1369.60px;transform:scaleX(0.9119);transform-origin:0 50%;">Diseases</div>
<div class="t" style="top:923.90px;font-size:13px;line-height:17px;font-weight:400;color:#787c88;letter-spacing:0.103px;left:1369.90px;">List of all diseases</div>
<div class="t" style="top:994.54px;font-size:27px;line-height:35px;font-weight:700;color:#1f2d6b;left:169.50px;">Health Management Analytics</div>
<svg class="abs" style="left:74px;top:979px" width="20" height="20" viewBox="0 0 20 20"><circle cx="9.5" cy="9.3" r="7.6" fill="none" stroke="#0d6efd" stroke-width="1.5"/><circle cx="9.5" cy="5.7" r="1.2" fill="#0d6efd"/><path d="M7.9 8.2 H10.6 V12.4 H11.5 V13.6 H7.7 V12.4 H8.7 V9.4 H7.9 Z" fill="#0d6efd"/></svg>
<div id="sb" class="abs"></div>
<div id="fab" class="abs"></div>
<div class="fb" style="left:1771px"></div><div class="fb" style="left:1842px"></div>
<svg class="abs" style="left:1757px;top:934px" width="152" height="68" viewBox="1757 934 152 68" fill="none" stroke="#0d6efd" stroke-width="1.6">
<path d="M1789.6 967.2 A7.6 7.6 0 0 1 1803 963.6" /><path d="M1804.4 970.4 A7.6 7.6 0 0 1 1791 974" />
<path d="M1805.6 960.4 V966 H1800 Z" fill="#0d6efd" stroke="none"/><path d="M1788.4 977.2 V971.6 H1794 Z" fill="#0d6efd" stroke="none"/>
<path d="M1868 977.4 C1864.6 973.4 1861.8 970.2 1861.8 967 A6.2 6.2 0 0 1 1874.2 967 C1874.2 970.2 1871.4 973.4 1868 977.4 Z" stroke-width="1.5" stroke-linejoin="round"/>
<path d="M1868 963.8 V970 M1864.9 966.9 H1871.1" stroke-width="1.5"/>
</svg>
</body></html>
